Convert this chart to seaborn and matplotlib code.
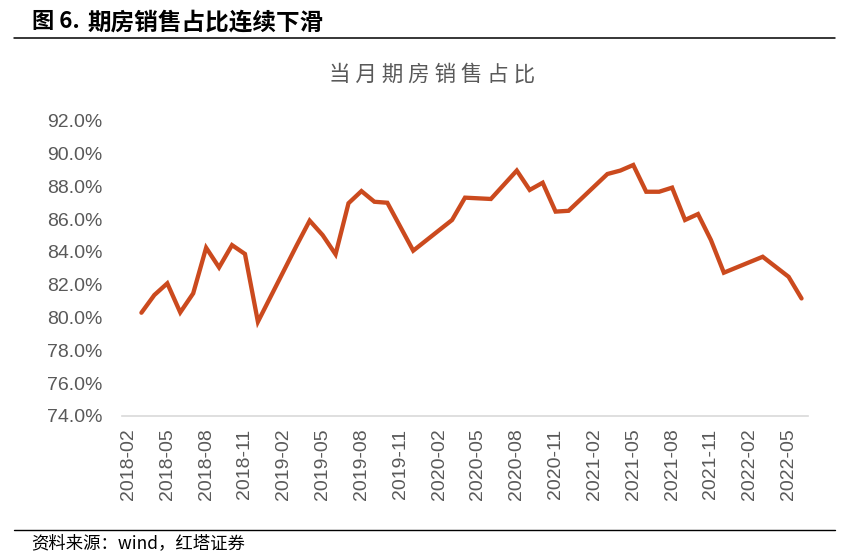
import matplotlib
matplotlib.use("Agg")
import matplotlib.pyplot as plt
import seaborn as sns
import pandas as pd
from matplotlib.lines import Line2D

months = ["2018-03", "2018-04", "2018-05", "2018-06", "2018-07", "2018-08", "2018-09",
          "2018-10", "2018-11", "2018-12", "2019-03", "2019-04", "2019-05", "2019-06",
          "2019-07", "2019-08", "2019-09", "2019-10", "2019-12", "2020-03", "2020-04",
          "2020-06", "2020-08", "2020-09", "2020-10", "2020-11", "2020-12", "2021-03",
          "2021-04", "2021-05", "2021-06", "2021-07", "2021-08", "2021-09", "2021-10",
          "2021-11", "2021-12", "2022-03", "2022-05", "2022-06"]
share = [80.29, 81.37, 82.08, 80.31, 81.47, 84.25, 83.05,
         84.41, 83.87, 79.74, 84.40, 85.90, 85.02, 83.85,
         86.96, 87.70, 87.05, 86.99, 84.07, 85.94, 87.30,
         87.22, 88.95, 87.77, 88.21, 86.45, 86.50, 88.74,
         88.95, 89.29, 87.66, 87.66, 87.91, 85.94, 86.30,
         84.72, 82.73, 83.70, 82.48, 81.16]
first_month = "2018-02"
last_month = "2022-06"
tick_labels = ["2018-02", "2018-05", "2018-08", "2018-11", "2019-02", "2019-05",
               "2019-08", "2019-11", "2020-02", "2020-05", "2020-08", "2020-11",
               "2021-02", "2021-05", "2021-08", "2021-11", "2022-02", "2022-05"]
y_ticks = [74, 76, 78, 80, 82, 84, 86, 88, 90, 92]

title_prefix = "图 6."
title_rest = "期房销售占比连续下滑"
chart_title = "当月期房销售占比"
source_text = "资料来源：wind，红塔证券"


def midx(s):
    y, m = s.split("-")
    y0, m0 = first_month.split("-")
    return (int(y) - int(y0)) * 12 + int(m) - int(m0)


df = pd.DataFrame({"idx": [midx(m) for m in months], "share": share})

sns.set_theme(style="white")
plt.rcParams['font.family'] = ['Liberation Sans', 'Noto Sans CJK SC', 'DejaVu Sans']

fig = plt.figure(figsize=(8.53, 5.56), dpi=100)
ax = fig.add_axes([122 / 853, 1 - 416 / 556, (808 - 122) / 853, (416 - 120.5) / 556])

sns.lineplot(data=df, x="idx", y="share", ax=ax, color="#CB4A1E", linewidth=3.1,
             solid_joinstyle="miter", solid_capstyle="round")

ax.set_xlim(-0.5, midx(last_month) + 0.5)
ax.set_ylim(74, 92)
ax.set_yticks(y_ticks)
ax.set_yticklabels([f"{v:.1f}%" for v in y_ticks])
ax.set_xticks([midx(t) for t in tick_labels])
ax.set_xticklabels(tick_labels, rotation=90)
ax.set_xlabel("")
ax.set_ylabel("")
ax.tick_params(axis="both", length=0, labelsize=14, colors="#595959")
ax.tick_params(axis="x", pad=9)
ax.tick_params(axis="y", pad=14)
for lab in ax.get_xticklabels() + ax.get_yticklabels():
    lab.set_family(['Liberation Sans', 'DejaVu Sans'])

for s in ["top", "right", "left"]:
    ax.spines[s].set_visible(False)
ax.spines["bottom"].set_color("#D9D9D9")
ax.spines["bottom"].set_linewidth(1.2)
ax.grid(False)

# titles and decorations
fig.text(32 / 853, 1 - 22 / 556, title_prefix, fontsize=16,
         fontweight="bold", family=['Noto Sans CJK SC', 'DejaVu Sans'],
         va="center", ha="left", color="black")
fig.text(88 / 853, 1 - 22 / 556, title_rest, fontsize=17,
         fontweight="bold", family=['Noto Sans CJK SC', 'DejaVu Sans'],
         va="center", ha="left", color="black")
fig.add_artist(Line2D([14 / 853, 835 / 853], [1 - 38 / 556, 1 - 38 / 556],
                      color="black", linewidth=1.1))
fig.text(432 / 853, 1 - 75 / 556, " ".join(chart_title), fontsize=15.5,
         family=['Noto Sans CJK SC', 'DejaVu Sans'], va="center", ha="center",
         color="#595959")
fig.add_artist(Line2D([14 / 853, 835 / 853], [1 - 530 / 556, 1 - 530 / 556],
                      color="black", linewidth=1.0))
fig.text(31 / 853, 1 - 543 / 556, source_text, fontsize=12.5,
         family=['Noto Sans CJK SC', 'DejaVu Sans'], va="center", ha="left", color="black")

fig.savefig("out.png", dpi=100)
